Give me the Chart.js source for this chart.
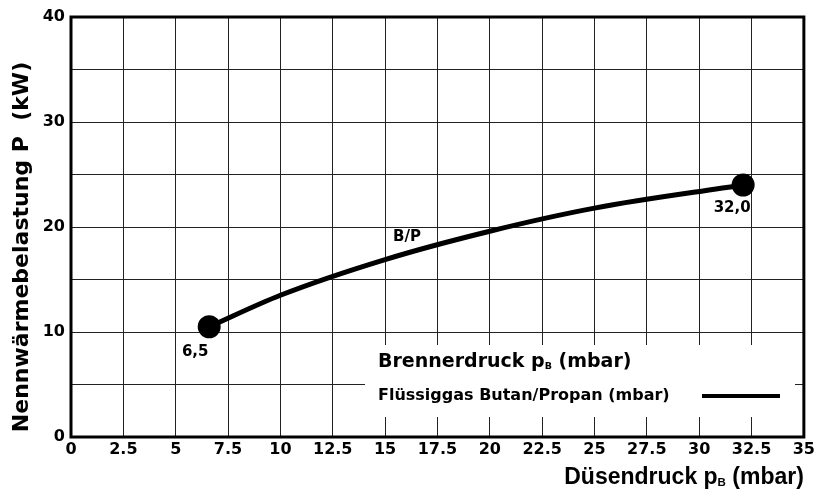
<!DOCTYPE html>
<html>
<head>
<meta charset="utf-8">
<script src="https://cdn.jsdelivr.net/npm/chart.js@4"></script>
<style>
  html, body { margin: 0; padding: 0; background: #fff; }
  #wrap { width: 818px; height: 497px; }
</style>
</head>
<body>
<div id="wrap"><canvas id="chart" width="818" height="497"></canvas></div>
<script>
// Düsendruck (mbar) / Nennwärmebelastung (kW)
const duesendruck = [6.6, 10, 15, 20, 25, 32.1];
const leistung    = [10.5, 13.5, 16.9, 19.6, 21.8, 24.0];
const pointSizes  = [9, 0, 0, 0, 0, 9];
const pointLabels = ['6,5', '32,0'];

const xTickLabels = ['0', '2.5', '5', '7.5', '10', '12.5', '15', '17.5', '20', '22.5', '25', '27.5', '30', '32.5', '35'];
const yTickLabels = ['0', '', '10', '', '20', '', '30', '', '40'];

const FONT = "'Liberation Sans', Arial, sans-serif";
const WIDE = "'DejaVu Sans', sans-serif";

// draw text with a subscript part, returns end x
function subText(ctx, parts, x, y, size, fam) {
  let cx = x;
  parts.forEach(p => {
    const s = p.sub ? size * 0.5 : size;
    ctx.font = 'bold ' + s + 'px ' + fam;
    const dy = p.sub ? size * 0.22 : 0;
    ctx.fillText(p.t, cx, y + dy);
    cx += ctx.measureText(p.t).width;
  });
  return cx;
}
function subWidth(ctx, parts, size, fam) {
  let w = 0;
  parts.forEach(p => {
    ctx.font = 'bold ' + (p.sub ? size * 0.5 : size) + 'px ' + fam;
    w += ctx.measureText(p.t).width;
  });
  return w;
}

const extras = {
  id: 'extras',
  beforeDatasetsDraw(chart) {
    const ctx = chart.ctx;
    // white legend box over the grid
    ctx.save();
    ctx.fillStyle = '#fff';
    ctx.fillRect(365, 345, 430, 72);
    ctx.fillStyle = '#000';
    ctx.textBaseline = 'middle';
    ctx.textAlign = 'left';
    subText(ctx, [{t: 'Brennerdruck p'}, {t: 'B', sub: true}, {t: ' (mbar)'}], 378, 362, 19, WIDE);
    ctx.font = 'bold 16px ' + WIDE;
    ctx.fillText('Flüssiggas Butan/Propan (mbar)', 378, 396);
    ctx.strokeStyle = '#000';
    ctx.lineWidth = 4;
    ctx.beginPath();
    ctx.moveTo(702, 396);
    ctx.lineTo(780, 396);
    ctx.stroke();
    ctx.restore();
  },
  afterDraw(chart) {
    const ctx = chart.ctx;
    const a = chart.chartArea;
    const xs = chart.scales.x, ys = chart.scales.y;
    ctx.save();
    // frame
    ctx.strokeStyle = '#000';
    ctx.lineWidth = 3;
    ctx.strokeRect(a.left, a.top, a.right - a.left, a.bottom - a.top);

    ctx.fillStyle = '#000';
    ctx.textBaseline = 'middle';
    ctx.textAlign = 'center';
    ctx.font = 'bold 15px ' + WIDE;
    const n = duesendruck.length - 1;
    ctx.fillText(pointLabels[0], xs.getPixelForValue(duesendruck[0]) - 14, ys.getPixelForValue(leistung[0]) + 25);
    ctx.fillText(pointLabels[1], xs.getPixelForValue(duesendruck[n]) - 11, ys.getPixelForValue(leistung[n]) + 23);
    ctx.fillText('B/P', xs.getPixelForValue(16.05), ys.getPixelForValue(19.0));

    // x axis title
    ctx.textAlign = 'left';
    const xt = [{t: 'Düsendruck p'}, {t: 'B', sub: true}, {t: ' (mbar)'}];
    const w = subWidth(ctx, xt, 23, FONT);
    subText(ctx, xt, a.right - w, 478, 23, FONT);

    // y axis title
    ctx.translate(22, 247);
    ctx.rotate(-Math.PI / 2);
    ctx.textAlign = 'center';
    ctx.font = 'bold 22px ' + WIDE;
    ctx.fillText('Nennwärmebelastung P  (kW)', 0, 0);
    ctx.restore();
  }
};

new Chart(document.getElementById('chart'), {
  type: 'line',
  data: {
    datasets: [{
      label: 'B/P',
      data: duesendruck.map((x, i) => ({ x: x, y: leistung[i] })),
      borderColor: '#000',
      backgroundColor: '#000',
      borderWidth: 5,
      pointRadius: pointSizes,
      pointHoverRadius: pointSizes,
      cubicInterpolationMode: 'monotone',
      fill: false
    }]
  },
  options: {
    responsive: false,
    animation: false,
    layout: { padding: { top: 17, right: 12, left: 0, bottom: 0 } },
    plugins: { legend: { display: false }, tooltip: { enabled: false } },
    scales: {
      x: {
        type: 'linear',
        min: 0, max: 35,
        ticks: {
          stepSize: 2.5,
          color: '#000',
          font: { family: WIDE, size: 16, weight: 'bold' },
          maxRotation: 0,
          padding: 3,
          callback: (v, i) => xTickLabels[i]
        },
        grid: { color: '#222', lineWidth: 1, drawTicks: false },
        border: { display: false },
        afterFit: s => { s.height = 60; }
      },
      y: {
        min: 0, max: 40,
        ticks: {
          stepSize: 5,
          color: '#000',
          font: { family: WIDE, size: 16, weight: 'bold' },
          padding: 6,
          callback: (v, i) => yTickLabels[i]
        },
        grid: { color: '#222', lineWidth: 1, drawTicks: false },
        border: { display: false },
        afterFit: s => { s.width = 71; }
      }
    }
  },
  plugins: [extras]
});
</script>
</body>
</html>
